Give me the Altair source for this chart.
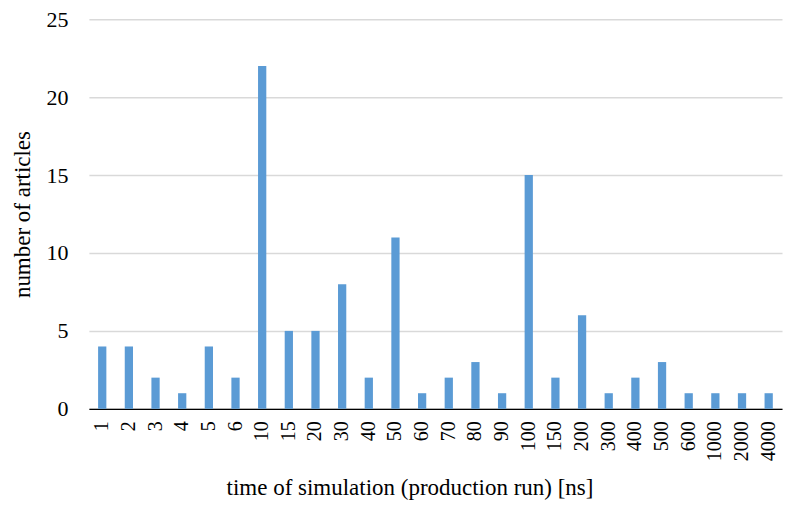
import altair as alt
import pandas as pd

categories = ["1", "2", "3", "4", "5", "6", "10", "15", "20", "30", "40", "50", "60",
              "70", "80", "90", "100", "150", "200", "300", "400", "500", "600",
              "1000", "2000", "4000"]
counts = [4, 4, 2, 1, 4, 2, 22, 5, 5, 8, 2, 11, 1, 2, 3, 1, 15, 2, 6, 1, 2, 3, 1, 1, 1, 1]

df = pd.DataFrame({"time": categories, "count": counts})

FONT = "Liberation Serif"

chart = alt.Chart(df).mark_bar(color="#5b9bd5").encode(
    x=alt.X("time:N", sort=categories,
            scale=alt.Scale(paddingInner=0.69, paddingOuter=0.345),
            axis=alt.Axis(title="time of simulation (production run) [ns]",
                          labelAngle=270, labelFont=FONT, labelFontSize=20,
                          labelColor="#000000", labelPadding=12,
                          labelBaseline="middle", labelAlign="right",
                          domainColor="#000000", domainWidth=1.3, ticks=False,
                          titleFont=FONT, titleFontSize=23, titleFontWeight="normal",
                          titleColor="#000000", titlePadding=16, titleX=321,
                          titleAlign="center")),
    y=alt.Y("count:Q", scale=alt.Scale(domain=[0, 25]),
            axis=alt.Axis(title="number of articles", values=[0, 5, 10, 15, 20, 25],
                          labelFont=FONT, labelFontSize=22, labelColor="#000000",
                          labelPadding=21, domain=False, ticks=False,
                          gridColor="#d9d9d9", gridWidth=1.5,
                          titleFont=FONT, titleFontSize=23, titleFontWeight="normal",
                          titleColor="#000000", titlePadding=11)),
).properties(
    width=694, height=390,
    autosize=alt.AutoSizeParams(type="none"),
    padding={"left": 81, "top": 11, "right": 5, "bottom": 93},
).configure_view(stroke=None)

chart.save("out.html", embed_options={"renderer": "svg", "actions": False})
